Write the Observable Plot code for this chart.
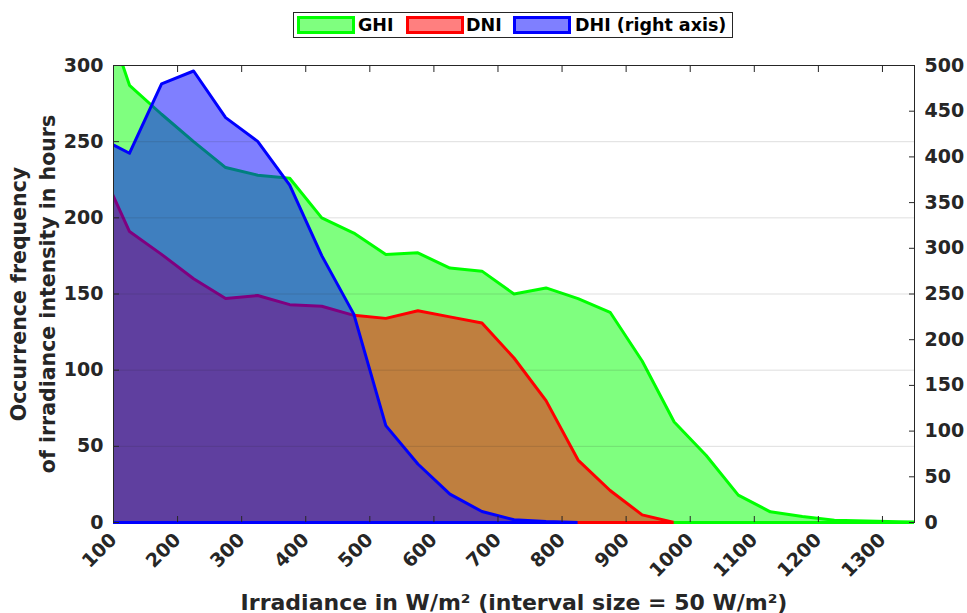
<!DOCTYPE html>
<html>
<head>
<meta charset="utf-8">
<script src="https://cdn.jsdelivr.net/npm/d3@7"></script>
<script src="https://cdn.jsdelivr.net/npm/@observablehq/plot@0.6"></script>
<style>
  html, body { margin: 0; padding: 0; background: #fff; }
  body { width: 967px; height: 613px; overflow: hidden; font-family: "DejaVu Sans", sans-serif; }
  #legendWrap { position: relative; width: 967px; height: 45px; }
  #legend { position: absolute; left: 293px; top: 12px; width: 440px; height: 26px; border: 1px solid #262626; box-sizing: border-box; background: #fff; }
  .sw { position: absolute; top: 3px; width: 58px; height: 18px; border: 3px solid; box-sizing: border-box; }
  .lt { position: absolute; top: 0px; line-height: 24px; font-size: 17.5px; font-weight: bold; color: #000; white-space: nowrap; }
  svg { display: block; }
</style>
</head>
<body>
<div id="legendWrap"></div>
<div id="chart"></div>
<script>
// ---- data ----
const binCenters = [75,125,175,225,275,325,375,425,475,525,575,625,675,725,775,825,875,925,975,1025,1075,1125,1175,1225,1275,1325,1375];
const ghiValues = [349,287,268,250,233,228,226,200,190,176,177,167,165,150,154,147,138,106,66,44,18,7,4,1.5,1,0.5,0];
const dniValues = [237,191,176,160,147,149,143,142,136,134,139,135,131,108,80,41,21,5,0];
const dhiValues = [422,404,480,494,443,417,369,292,228,106,64,31,12,3,1,0];

const seriesNames = ["GHI", "DNI", "DHI (right axis)"];
const seriesColors = ["#00ff00", "#ff0000", "#0000ff"];

const xDomain = [100, 1350];
const xTicks = [100,200,300,400,500,600,700,800,900,1000,1100,1200,1300];
const yLeftTicks = [0,50,100,150,200,250,300];
const yRightTicks = [0,50,100,150,200,250,300,350,400,450,500];
const yLeftMax = 300, yRightMax = 500;

const xLabel = "Irradiance in W/m² (interval size = 50 W/m²)";
const yLabel = "Occurrence frequency\nof irradiance intensity in hours";

// ---- build tables ----
const k = yLeftMax / yRightMax;
const toRows = (vals, scale) => vals.map((v, i) => ({x: binCenters[i], v: v * scale}));
const series = [
  {rows: toRows(ghiValues, 1), color: seriesColors[0]},
  {rows: toRows(dniValues, 1), color: seriesColors[1]},
  {rows: toRows(dhiValues, k), color: seriesColors[2]}
];

const marks = [];
for (const s of series) {
  marks.push(Plot.areaY(s.rows, {x: "x", y: "v", fill: s.color, fillOpacity: 0.5, clip: true}));
  marks.push(Plot.lineY(s.rows, {x: "x", y: "v", stroke: s.color, strokeWidth: 3, strokeLinejoin: "round", clip: true}));
}
marks.push(Plot.gridY(yLeftTicks.filter(v => v > 0 && v < yLeftMax), {stroke: "#262626", strokeOpacity: 0.15, strokeWidth: 1}));
marks.push(Plot.frame({stroke: "#262626", strokeWidth: 1}));
for (const s of series) {
  const xs = s.rows.map(d => d.x);
  const base = [{y: 0, x1: Math.max(d3.min(xs), xDomain[0]), x2: Math.min(d3.max(xs), xDomain[1])}];
  marks.push(Plot.ruleY(base, {y: "y", x1: "x1", x2: "x2", stroke: s.color, strokeWidth: 3}));
}
marks.push(
  Plot.axisX(xTicks, {anchor: "bottom", tickSize: -6, tickPadding: 20, tickRotate: -45, fontSize: 19, label: null, stroke: "#262626", tickFormat: d => String(d)}),
  Plot.axisX(xTicks, {anchor: "top", tickSize: -6, tickFormat: () => "", label: null, stroke: "#262626"}),
  Plot.axisY(yLeftTicks, {anchor: "left", tickSize: -6, tickPadding: 16, fontSize: 19, label: null, stroke: "#262626", tickFormat: d => String(d)}),
  Plot.axisY(yRightTicks.map(v => v * k), {anchor: "right", tickSize: -6, tickPadding: 16, fontSize: 19, label: null, stroke: "#262626", tickFormat: d => String(Math.round(d / k))}),
  Plot.text([xLabel], {text: d => d, frameAnchor: "bottom", textAnchor: "middle", lineAnchor: "middle", dy: 80, fontSize: 22, fill: "#262626"}),
  Plot.text([yLabel], {text: d => d, frameAnchor: "left", textAnchor: "middle", lineAnchor: "middle", rotate: -90, dx: -82, fontSize: 20.5, lineHeight: 1.42, fill: "#262626"})
);

const chart = Plot.plot({
  width: 967,
  height: 568,
  marginTop: 20,
  marginLeft: 113,
  marginRight: 53,
  marginBottom: 91,
  x: {domain: xDomain, label: null},
  y: {domain: [0, yLeftMax], label: null},
  style: {fontFamily: "DejaVu Sans, sans-serif", fontWeight: "bold", color: "#262626", background: "#fff", overflow: "visible"},
  marks
});
document.getElementById("chart").appendChild(chart);

// ---- legend ----
const wrap = document.getElementById("legendWrap");
const lg = document.createElement("div");
lg.id = "legend";
wrap.appendChild(lg);
const swLeft = [3, 112, 219];
const txtLeft = [64, 172, 281];
seriesNames.forEach((name, i) => {
  const sw = document.createElement("div");
  sw.className = "sw";
  sw.style.left = swLeft[i] + "px";
  sw.style.borderColor = seriesColors[i];
  const c = d3.color(seriesColors[i]);
  sw.style.background = `rgba(${c.r},${c.g},${c.b},0.5)`;
  lg.appendChild(sw);
  const t = document.createElement("div");
  t.className = "lt";
  t.style.left = txtLeft[i] + "px";
  t.textContent = name;
  lg.appendChild(t);
});
</script>
</body>
</html>
